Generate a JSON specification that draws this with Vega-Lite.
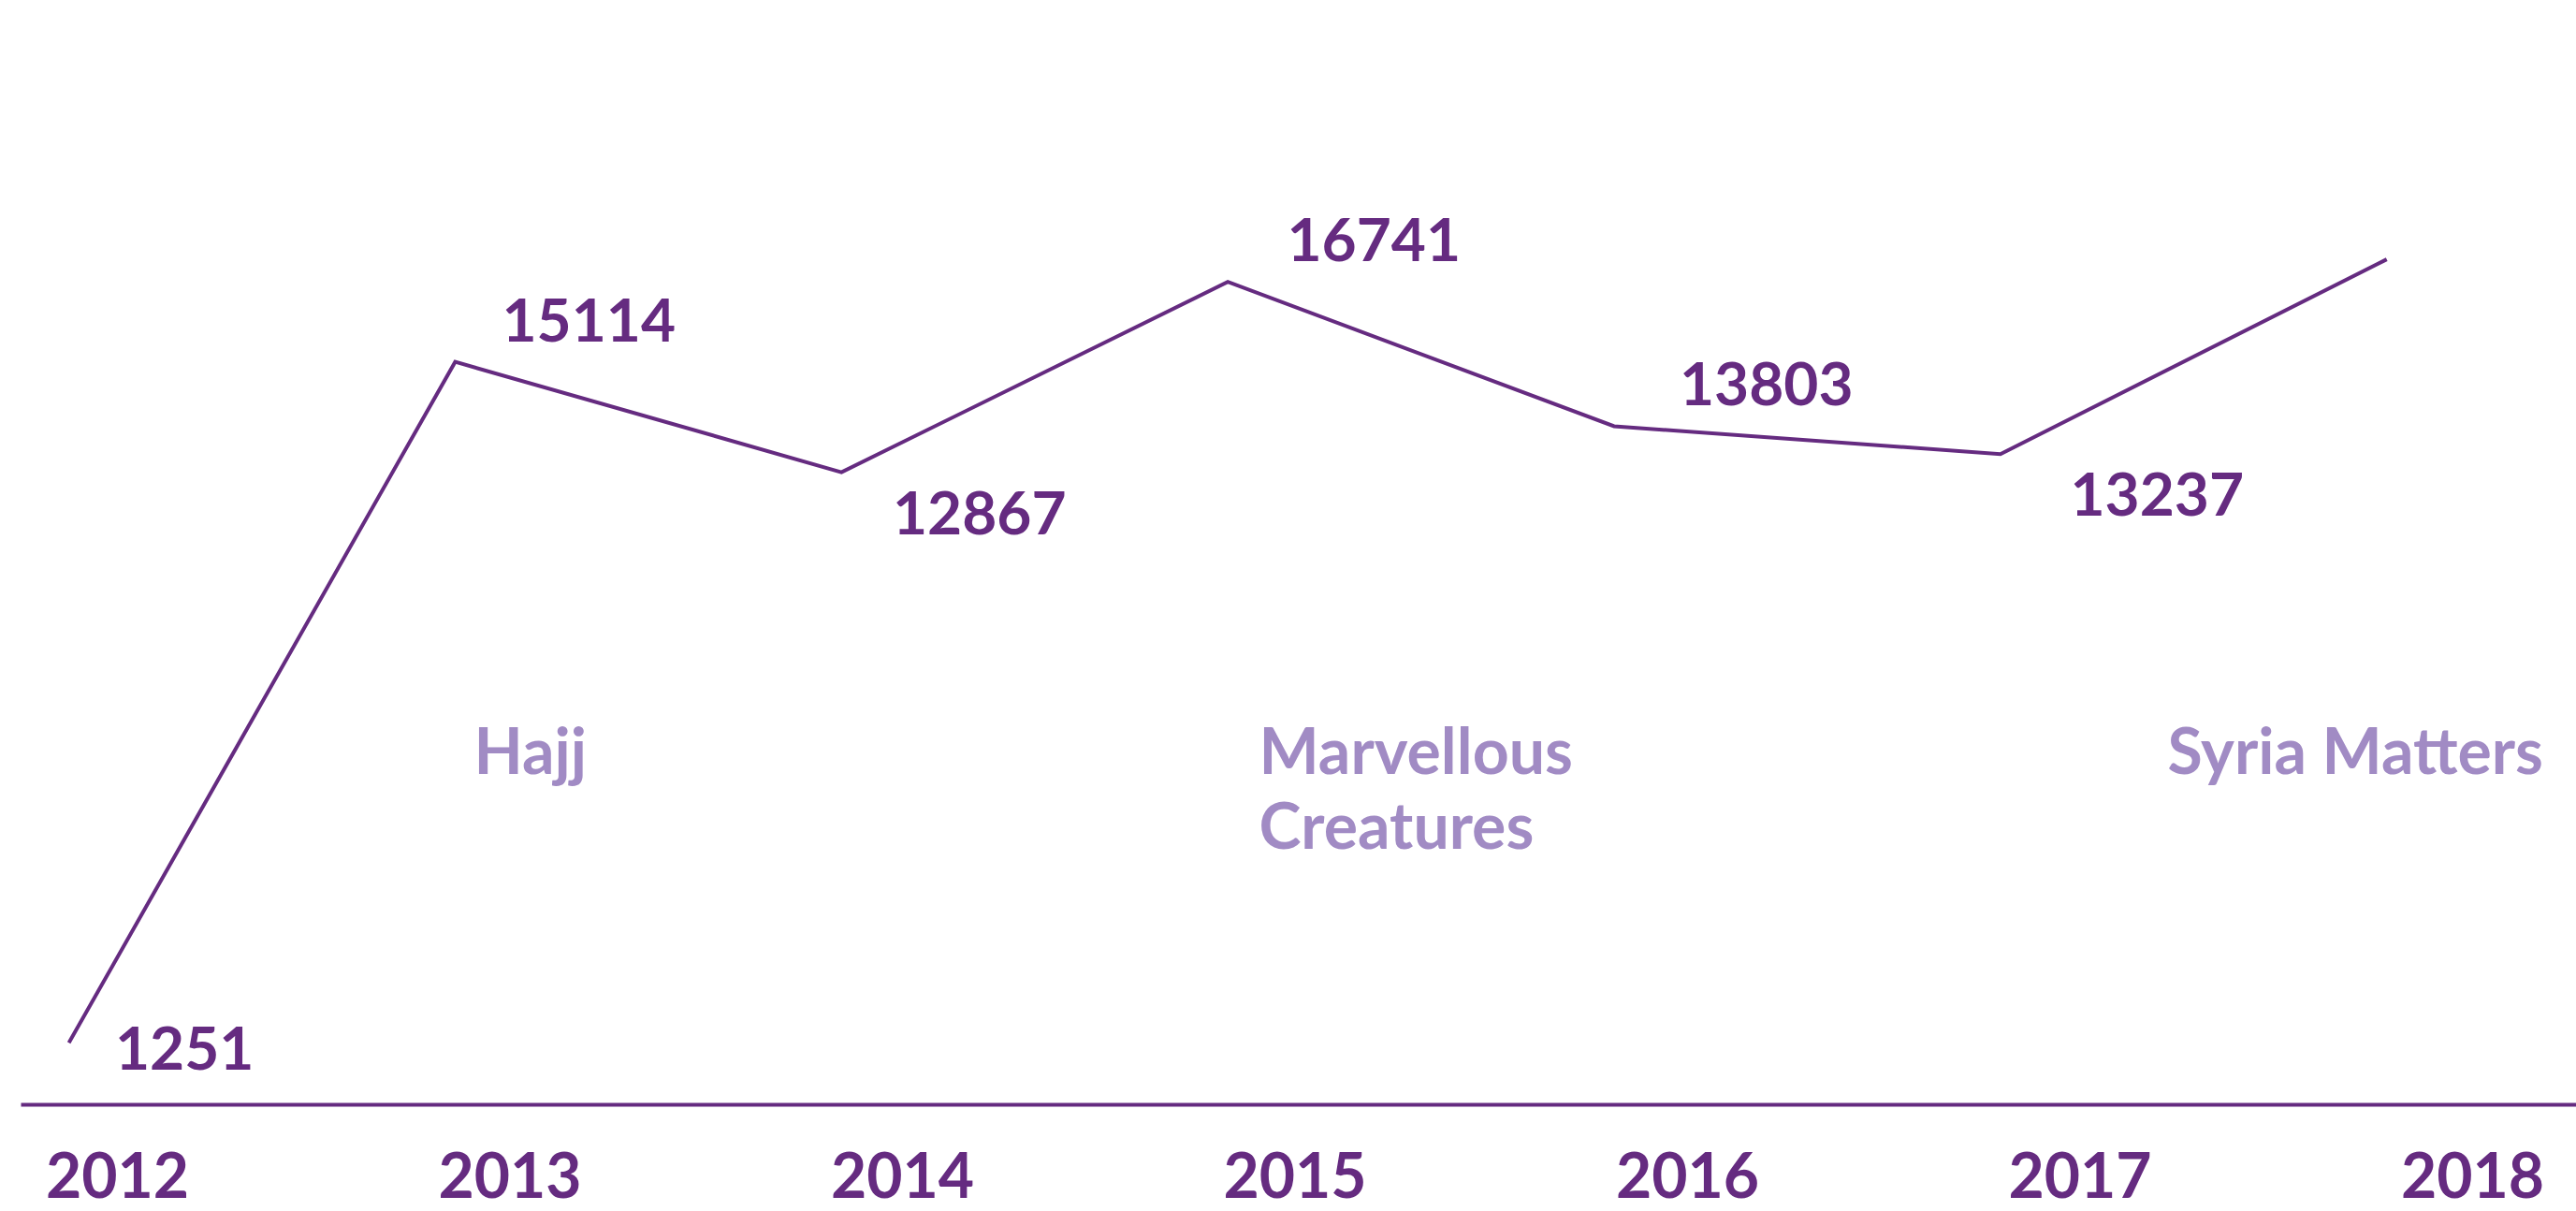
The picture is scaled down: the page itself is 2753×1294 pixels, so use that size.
{
  "$schema": "https://vega.github.io/schema/vega-lite/v6.json",
  "width": 2731,
  "height": 1180,
  "autosize": "none",
  "padding": {"left": 22, "top": 0, "right": 0, "bottom": 114},
  "background": "white",
  "config": {"view": {"stroke": null}, "font": "Lato"},
  "data": {
    "values": [
      {"year": 2012, "visitors": 1251, "project": null},
      {"year": 2013, "visitors": 15114, "project": "Hajj"},
      {"year": 2014, "visitors": 12867, "project": null},
      {"year": 2015, "visitors": 16741, "project": "Marvellous Creatures"},
      {"year": 2016, "visitors": 13803, "project": null},
      {"year": 2017, "visitors": 13237, "project": null},
      {"year": 2018, "visitors": 17200, "project": "Syria Matters"}
    ]
  },
  "layer": [
    {
      "mark": {"type": "line", "color": "#652b80", "strokeWidth": 4},
      "encoding": {
        "x": {"field": "year", "type": "quantitative", "scale": {"domain": [2011.875, 2018.49], "nice": false, "zero": false}, "axis": null},
        "y": {"field": "visitors", "type": "quantitative", "scale": {"domain": [0, 22480], "nice": false, "zero": true}, "axis": null}
      }
    },
    {
      "mark": {"type": "point", "opacity": 0},
      "encoding": {
        "x": {"field": "year", "type": "quantitative", "scale": {"domain": [2011.7545, 2018.2646], "nice": false, "zero": false},
          "axis": {"orient": "bottom", "values": [2012, 2013, 2014, 2015, 2016, 2017, 2018], "format": "d", "title": null,
            "labelFont": "Lato", "labelFontWeight": "bold", "labelFontSize": 66, "labelColor": "#652b80",
            "labelBaseline": "alphabetic", "labelPadding": 99, "ticks": false, "tickSize": 0, "grid": false,
            "domainColor": "#652b80", "domainWidth": 4, "labelFlush": false, "labelOverlap": false, "labelBound": false}},
        "y": {"field": "visitors", "type": "quantitative", "axis": null}
      }
    },
    {
      "transform": [{"filter": {"field": "year", "oneOf": [2013, 2015, 2016]}}],
      "mark": {"type": "text", "align": "left", "baseline": "alphabetic", "dx": -8, "dy": -22, "font": "Lato", "fontWeight": "bold", "fontSize": 64, "color": "#652b80"},
      "encoding": {
        "x": {"field": "year", "type": "quantitative", "scale": {"domain": [2011.7545, 2018.2646], "nice": false, "zero": false}, "axis": null},
        "y": {"field": "visitors", "type": "quantitative", "axis": null},
        "text": {"field": "visitors", "type": "quantitative", "format": "d"}
      }
    },
    {
      "transform": [{"filter": {"field": "year", "oneOf": [2014, 2017]}}],
      "mark": {"type": "text", "align": "left", "baseline": "alphabetic", "dx": -10, "dy": 66, "font": "Lato", "fontWeight": "bold", "fontSize": 64, "color": "#652b80"},
      "encoding": {
        "x": {"field": "year", "type": "quantitative", "scale": {"domain": [2011.7545, 2018.2646], "nice": false, "zero": false}, "axis": null},
        "y": {"field": "visitors", "type": "quantitative", "axis": null},
        "text": {"field": "visitors", "type": "quantitative", "format": "d"}
      }
    },
    {
      "transform": [{"filter": {"field": "year", "equal": 2012}}],
      "mark": {"type": "text", "align": "left", "baseline": "alphabetic", "dx": -2, "dy": 29, "font": "Lato", "fontWeight": "bold", "fontSize": 64, "color": "#652b80"},
      "encoding": {
        "x": {"field": "year", "type": "quantitative", "scale": {"domain": [2011.7545, 2018.2646], "nice": false, "zero": false}, "axis": null},
        "y": {"field": "visitors", "type": "quantitative", "axis": null},
        "text": {"field": "visitors", "type": "quantitative", "format": "d"}
      }
    },
    {
      "transform": [{"filter": {"field": "year", "oneOf": [2013, 2015]}}],
      "mark": {"type": "text", "align": "left", "baseline": "alphabetic", "dx": -38, "lineBreak": " ", "lineHeight": 80, "font": "Lato", "fontWeight": "bold", "fontSize": 68, "color": "#a18bc4"},
      "encoding": {
        "x": {"field": "year", "type": "quantitative", "scale": {"domain": [2011.7545, 2018.2646], "nice": false, "zero": false}, "axis": null},
        "y": {"datum": 6725, "type": "quantitative", "axis": null},
        "text": {"field": "project", "type": "nominal"}
      }
    },
    {
      "transform": [{"filter": {"field": "year", "equal": 2018}}],
      "mark": {"type": "text", "align": "right", "baseline": "alphabetic", "dx": 76, "font": "Lato", "fontWeight": "bold", "fontSize": 68, "color": "#a18bc4"},
      "encoding": {
        "x": {"field": "year", "type": "quantitative", "scale": {"domain": [2011.7545, 2018.2646], "nice": false, "zero": false}, "axis": null},
        "y": {"datum": 6725, "type": "quantitative", "axis": null},
        "text": {"field": "project", "type": "nominal"}
      }
    }
  ],
  "resolve": {"scale": {"x": "independent"}}
}
